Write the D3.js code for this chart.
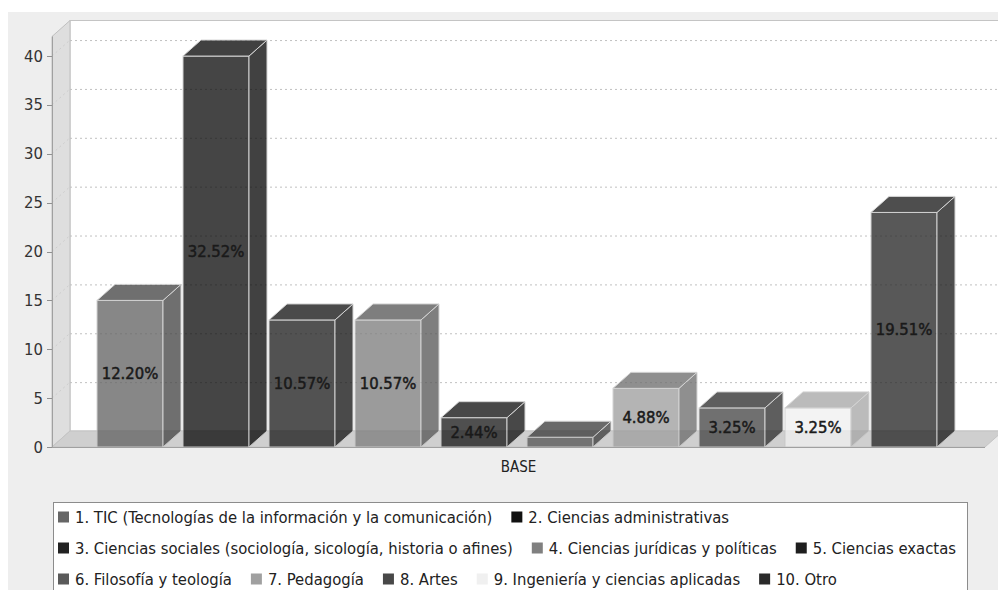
<!DOCTYPE html>
<html>
<head>
<meta charset="utf-8">
<script src="https://cdn.jsdelivr.net/npm/d3@7"></script>
<style>
  html, body { margin: 0; padding: 0; background: #ffffff; }
  svg text { font-family: "DejaVu Sans Condensed", "DejaVu Sans", sans-serif; font-stretch: condensed; }
</style>
</head>
<body>
<svg id="chart" width="998" height="590"></svg>
<script>
// Areas of study, one bar per series in the single "BASE" category
const seriesNames = [
  "1. TIC (Tecnologías de la información y la comunicación)",
  "2. Ciencias administrativas",
  "3. Ciencias sociales (sociología, sicología, historia o afines)",
  "4. Ciencias jurídicas y políticas",
  "5. Ciencias exactas",
  "6. Filosofía y teología",
  "7. Pedagogía",
  "8. Artes",
  "9. Ingeniería y ciencias aplicadas",
  "10. Otro"
];
const seriesCounts = [15, 40, 13, 13, 3, 1, 6, 4, 4, 24];
const seriesColors = ["#666666", "#111111", "#222222", "#808080", "#1e1e1e",
                      "#5a5a5a", "#a0a0a0", "#484848", "#f0f0f0", "#2a2a2a"];
const categoryLabel = "BASE";
const yTicks = [0, 5, 10, 15, 20, 25, 30, 35, 40];
const legendRows = [[0, 1], [2, 3, 4], [5, 6, 7, 8, 9]];

const total = d3.sum(seriesCounts);
const pct = d3.format(".2f");
const bars = seriesCounts.map((v, i) => ({ v, i }));

const svg = d3.select("#chart");

// 3D depth offset
const DX = 18, DY = -16;
const left = 52, right = 985, bottom = 447;

const y = d3.scaleLinear().domain([0, 42]).range([bottom, 36.5]);
const x = d3.scaleBand()
  .domain(d3.range(seriesNames.length))
  .range([87, 947])
  .paddingInner(0.2326)
  .paddingOuter(0.1163);

// chart background
svg.append("rect").attr("x", 8).attr("y", 12).attr("width", 990).attr("height", 578)
  .attr("fill", "#eeeeee");

// back wall
svg.append("rect")
  .attr("x", left + DX).attr("y", y(42) + DY)
  .attr("width", right - left + 20).attr("height", y(0) - y(42))
  .attr("fill", "#ffffff").attr("stroke", "#c4c4c4").attr("stroke-width", 1);

// gridlines on the back wall
svg.append("g").selectAll("line").data(yTicks.filter(t => t > 0)).join("line")
  .attr("x1", left + DX).attr("x2", 998)
  .attr("y1", d => y(d) + DY + 0.5).attr("y2", d => y(d) + DY + 0.5)
  .attr("stroke", "#c0c0c0").attr("stroke-width", 1).attr("stroke-dasharray", "2,3");

// left wall
const lw = [[left, y(0)], [left, y(42)], [left + DX, y(42) + DY], [left + DX, y(0) + DY]];
svg.append("path").attr("d", "M" + lw.join("L") + "Z")
  .attr("fill", "#dedede").attr("stroke", "#c0c0c0");

// gridlines on the left wall
svg.append("g").selectAll("line").data(yTicks.filter(t => t > 0)).join("line")
  .attr("x1", left).attr("x2", left + DX)
  .attr("y1", d => y(d)).attr("y2", d => y(d) + DY)
  .attr("stroke", "#cdcdcd").attr("stroke-width", 1).attr("stroke-dasharray", "2,3");

// floor
const fl = [[left, y(0)], [left + DX, y(0) + DY], [right + DX, y(0) + DY], [right, y(0)]];
svg.append("path").attr("d", "M" + fl.join("L") + "Z")
  .attr("fill", "#cfcfcf").attr("stroke", "#c4c4c4");

// bars: front face plus darker top and side faces, slightly translucent
const darker = c => { const k = d3.rgb(c); return d3.rgb(k.r * 0.7, k.g * 0.7, k.b * 0.7).toString(); };
svg.append("g").selectAll("g").data(bars).join("g")
  .attr("opacity", 0.78)
  .each(function (d) {
    const g = d3.select(this);
    const x0 = x(d.i), w = x.bandwidth();
    const yt = y(d.v), yb = y(0);
    const face = seriesColors[d.i], shade = darker(face);
    const top = [[x0, yt], [x0 + DX, yt + DY], [x0 + w + DX, yt + DY], [x0 + w, yt]];
    const side = [[x0 + w, yt], [x0 + w + DX, yt + DY], [x0 + w + DX, yb + DY], [x0 + w, yb]];
    g.append("rect").attr("x", x0).attr("y", yt).attr("width", w).attr("height", yb - yt)
      .attr("fill", face).attr("stroke", "#c8c8c8").attr("stroke-width", 1);
    g.append("path").attr("d", "M" + side.join("L") + "Z")
      .attr("fill", shade).attr("stroke", "#c8c8c8").attr("stroke-width", 1);
    g.append("path").attr("d", "M" + top.join("L") + "Z")
      .attr("fill", shade).attr("stroke", "#c8c8c8").attr("stroke-width", 1);
  });

// value labels (share of total), centred on each bar's front face
svg.append("g").selectAll("text")
  .data(bars.filter(d => y(0) - y(d.v) >= 16))
  .join("text")
  .attr("x", d => x(d.i) + x.bandwidth() / 2)
  .attr("y", d => (y(0) + y(d.v)) / 2)
  .attr("text-anchor", "middle").attr("dominant-baseline", "central")
  .attr("font-size", 16.5).attr("fill", "#1a1a1a")
  .attr("stroke", "#1a1a1a").attr("stroke-width", 0.5)
  .text(d => pct(d.v / total * 100) + "%");

// value axis
const axis = svg.append("g");
axis.append("line").attr("x1", left + 0.5).attr("x2", left + 0.5)
  .attr("y1", y(42)).attr("y2", y(0)).attr("stroke", "#a0a0a0");
axis.selectAll(".tick").data(yTicks).join("line")
  .attr("x1", left - 5).attr("x2", left)
  .attr("y1", d => Math.round(y(d)) + 0.5).attr("y2", d => Math.round(y(d)) + 0.5)
  .attr("stroke", "#909090");
axis.selectAll("text").data(yTicks).join("text")
  .attr("x", left - 9).attr("y", d => y(d))
  .attr("text-anchor", "end").attr("dominant-baseline", "central")
  .attr("font-size", 16.5).attr("fill", "#333333")
  .text(d => d);

// category axis
svg.append("line").attr("x1", left).attr("x2", right)
  .attr("y1", bottom + 0.5).attr("y2", bottom + 0.5).attr("stroke", "#a0a0a0");
svg.append("text").attr("x", (left + right) / 2).attr("y", 467)
  .attr("text-anchor", "middle").attr("dominant-baseline", "central")
  .attr("font-size", 15).attr("fill", "#222222").text(categoryLabel);

// legend
const lg = svg.append("g");
lg.append("rect").attr("x", 53.5).attr("y", 502.5).attr("width", 914).attr("height", 100)
  .attr("fill", "#ffffff").attr("stroke", "#8c8c8c");
const rowY = [517, 548, 579];
legendRows.forEach((row, r) => {
  let cx = 58;
  row.forEach(i => {
    lg.append("rect").attr("x", cx).attr("y", rowY[r] - 5.5).attr("width", 11).attr("height", 11)
      .attr("fill", seriesColors[i]);
    const t = lg.append("text").attr("x", cx + 17).attr("y", rowY[r])
      .attr("dominant-baseline", "central").attr("font-size", 16.5).attr("fill", "#222222")
      .text(seriesNames[i]);
    cx += 17 + t.node().getComputedTextLength() + 19;
  });
});
</script>
</body>
</html>
